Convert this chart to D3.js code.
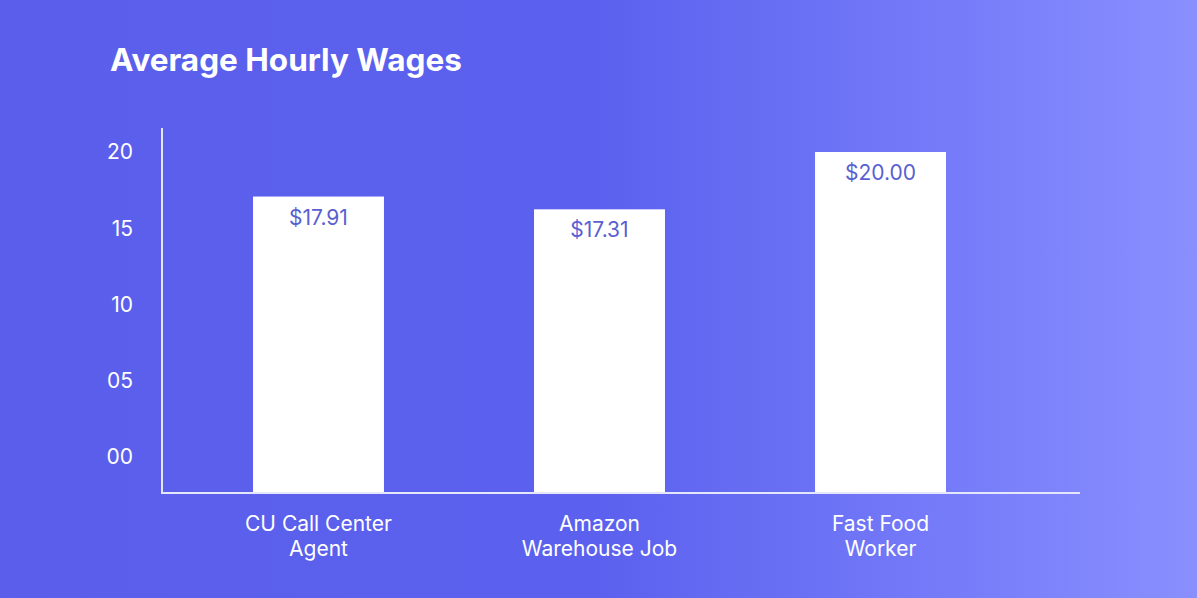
<!DOCTYPE html>
<html>
<head>
<meta charset="utf-8">
<script src="https://cdn.jsdelivr.net/npm/d3@7"></script>
<style>
  html, body { margin: 0; padding: 0; }
  svg { display: block; }
  text { font-family: Inter, "Noto Sans", sans-serif; }
</style>
</head>
<body>
<svg id="chart" width="1197" height="598"></svg>
<script>
const categories = [["CU Call Center", "Agent"], ["Amazon", "Warehouse Job"], ["Fast Food", "Worker"]];
const values = [17.91, 17.31, 20.00];
const valueLabels = ["$17.91", "$17.31", "$20.00"];
const yTickLabels = ["00", "05", "10", "15", "20"];
const title = "Average Hourly Wages";

const W = 1197, H = 598;
const svg = d3.select("#chart");

const defs = svg.append("defs");
const grad = defs.append("linearGradient").attr("id", "bg").attr("x1", "0%").attr("x2", "100%").attr("y1", "0%").attr("y2", "0%");
grad.append("stop").attr("offset", "0%").attr("stop-color", "#5a5eeb");
grad.append("stop").attr("offset", "50%").attr("stop-color", "#5b61ee");
grad.append("stop").attr("offset", "80%").attr("stop-color", "#767cf9");
grad.append("stop").attr("offset", "100%").attr("stop-color", "#8a8ffe");
svg.append("rect").attr("width", W).attr("height", H).attr("fill", "url(#bg)");

const axisX = 162, axisY = 493, axisTop = 128, axisRight = 1080;

const x = d3.scaleBand().domain(d3.range(categories.length)).range([112.5, 1086.5]).paddingInner(0.534).paddingOuter(0.5);
// bar scale (as drawn in the reference)
const y = d3.scaleLinear().domain([4, 20]).range([axisY, 152]);
// tick label positions (evenly spaced labels)
const yTicks = d3.scalePoint().domain(yTickLabels).range([457, 152]);

svg.append("text").attr("x", 110).attr("y", 71).attr("fill", "#fff")
  .attr("font-size", 31.5).attr("font-weight", 700).text(title);

// bars
svg.selectAll("rect.bar").data(values).enter().append("rect")
  .attr("class", "bar")
  .attr("x", (d, i) => x(i)).attr("width", x.bandwidth())
  .attr("y", d => y(d)).attr("height", d => axisY - y(d))
  .attr("fill", "#ffffff");

svg.selectAll("text.val").data(values).enter().append("text")
  .attr("class", "val")
  .attr("x", (d, i) => x(i) + x.bandwidth() / 2)
  .attr("y", d => y(d) + 28)
  .attr("text-anchor", "middle").attr("font-size", 21)
  .attr("fill", "#5a5fd2").text((d, i) => valueLabels[i]);

// axes lines
svg.append("line").attr("x1", axisX).attr("x2", axisX).attr("y1", axisTop).attr("y2", axisY + 1)
  .attr("stroke", "#e6e6fa").attr("stroke-width", 2);
svg.append("line").attr("x1", axisX - 1).attr("x2", axisRight).attr("y1", axisY).attr("y2", axisY)
  .attr("stroke", "#e6e6fa").attr("stroke-width", 2);

// y tick labels
svg.selectAll("text.ytick").data(yTickLabels).enter().append("text")
  .attr("class", "ytick")
  .attr("x", 133).attr("y", d => yTicks(d)).attr("dy", "0.35em")
  .attr("text-anchor", "end").attr("font-size", 21).attr("fill", "#fff").text(d => d);

// x labels
const xl = svg.selectAll("text.xl").data(categories).enter().append("text")
  .attr("class", "xl")
  .attr("x", (d, i) => x(i) + x.bandwidth() / 2)
  .attr("y", 531).attr("text-anchor", "middle").attr("font-size", 21).attr("fill", "#fff");
xl.selectAll("tspan").data(d => d).enter().append("tspan")
  .attr("x", function() { return d3.select(this.parentNode).attr("x"); })
  .attr("dy", (d, j) => j === 0 ? 0 : 25).text(d => d);
</script>
</body>
</html>
